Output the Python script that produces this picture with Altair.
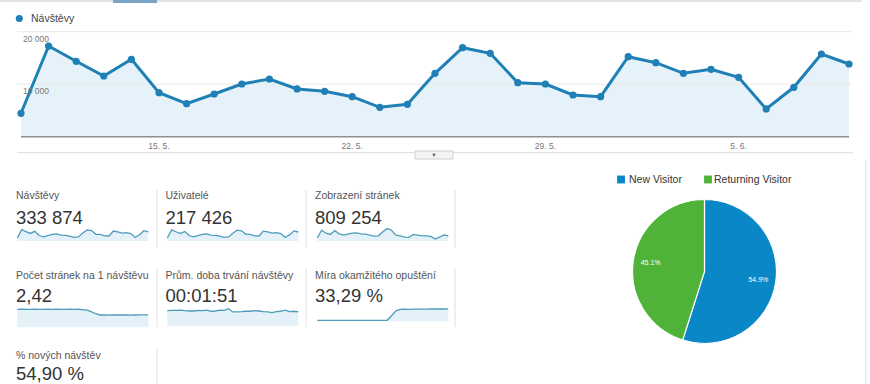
import altair as alt
import pandas as pd

# ---------------- data ----------------
dates = ["10. 5.", "11. 5.", "12. 5.", "13. 5.", "14. 5.", "15. 5.", "16. 5.", "17. 5.",
         "18. 5.", "19. 5.", "20. 5.", "21. 5.", "22. 5.", "23. 5.", "24. 5.", "25. 5.",
         "26. 5.", "27. 5.", "28. 5.", "29. 5.", "30. 5.", "31. 5.", "1. 6.", "2. 6.",
         "3. 6.", "4. 6.", "5. 6.", "6. 6.", "7. 6.", "8. 6.", "9. 6."]
visits = [4460, 17270, 14360, 11560, 14740, 8380, 6290, 8130, 10040, 10990, 9090,
          8640, 7620, 5600, 6170, 12080, 16950, 15890, 10290, 10040, 7940, 7620,
          15240, 14100, 12080, 12840, 11310, 5280, 9410, 15750, 13850]
users = [3600, 13600, 11300, 9200, 11700, 6700, 5000, 6500, 8000, 8700, 7200,
         6900, 6100, 4500, 4900, 9600, 13300, 12500, 8200, 8000, 6300, 6100,
         12000, 11200, 9600, 10200, 9000, 4200, 7500, 12400, 11000]
pageviews = [13200, 43500, 31600, 26400, 42200, 29000, 23700, 27700, 31600, 33000, 29000,
             27700, 23700, 19800, 21100, 36900, 50100, 43500, 23700, 21100, 15800, 14500,
             26400, 23700, 21100, 21100, 18500, 7900, 15800, 25000, 21100]
pages_per_visit = [2.85, 2.86, 2.84, 2.85, 2.87, 2.85, 2.84, 2.86, 2.85, 2.86, 2.84,
                   2.85, 2.86, 2.85, 2.87, 2.78, 2.72, 2.45, 2.15, 1.95, 1.95, 1.94,
                   1.95, 1.96, 1.95, 1.95, 1.94, 1.95, 1.96, 1.97, 1.98]
duration_s = [114, 116, 116, 118, 114, 111, 111, 116, 114, 118, 109,
              111, 118, 116, 128, 104, 104, 106, 109, 109, 114, 111,
              106, 104, 99, 106, 109, 118, 106, 109, 104]
bounce = [4.5, 4.4, 4.6, 4.5, 4.4, 4.6, 4.5, 4.5, 4.4, 4.6, 4.5,
          4.5, 4.6, 4.4, 4.5, 4.6, 5.0, 30.0, 58.0, 66.0, 66.5, 66.0,
          67.0, 67.5, 67.0, 67.5, 68.0, 68.0, 68.5, 68.0, 68.5]

grid_values = [10000, 20000]
grid_labels = ["10 000", "20 000"]
tick_index = [5, 12, 19, 26]
tick_labels = ["15. 5.", "22. 5.", "29. 5.", "5. 6."]
series_name = ["Návštěvy"]

kpi_titles = ["Návštěvy", "Uživatelé", "Zobrazení stránek", "Počet stránek na 1 návštěvu",
              "Prům. doba trvání návštěvy", "Míra okamžitého opuštění", "% nových návštěv"]
kpi_values = ["333 874", "217 426", "809 254", "2,42", "00:01:51", "33,29 %", "54,90 %"]
kpi_col = [0, 1, 2, 0, 1, 2, 0]
kpi_row = [0, 0, 0, 1, 1, 1, 2]

pie_types = ["New Visitor", "Returning Visitor"]
pie_share = [54.9, 45.1]
pie_labels = ["54.9%", "45.1%"]

# ---------------- styling / geometry ----------------
FONT = "Liberation Sans"
BLUE_LINE = "#1f80b5"
BLUE_FILL = "#e6f2f9"
PIE_COLORS = ["#0a87c6", "#4fb33a"]
SPARK_LINE = "#4e9cbc"
SPARK_FILL = "#e4f1f8"

ONE = pd.DataFrame({"k": [0]})


def lin(domain, rng):
    return alt.Scale(domain=domain, range=rng, zero=False, nice=False)


def rule(x, x2, y, y2, color, w=1.0):
    return alt.Chart(ONE).mark_rule(color=color, strokeWidth=w).encode(
        x=alt.value(x), x2=alt.value(x2), y=alt.value(y), y2=alt.value(y2))


layers = []

# top decoration
layers.append(rule(0, 862, 1, 1, "#e3e3e3", 2))
layers.append(alt.Chart(ONE).mark_rect(color="#7aa3c5").encode(
    x=alt.value(113), x2=alt.value(157), y=alt.value(0), y2=alt.value(3)))

# ---------------- main line chart ----------------
X_MAIN = lin([0, 30], [21, 849])
Y_MAIN = lin([0, 20000], [136.7, 31.7])

df_main = pd.DataFrame({"i": list(range(len(visits))), "den": dates, "navstevy": visits})
df_grid = pd.DataFrame({"v": grid_values, "label": grid_labels})
df_ticks = pd.DataFrame({"i": tick_index, "label": tick_labels})
df_base = pd.DataFrame({"v": [0]})

base = alt.Chart(df_main).encode(
    x=alt.X("i:Q", scale=X_MAIN, axis=None),
    y=alt.Y("navstevy:Q", scale=Y_MAIN, axis=None))
layers.append(base.mark_area(color=BLUE_FILL, opacity=1))
layers.append(alt.Chart(df_grid).mark_rule(color="#e9e9e9", strokeWidth=1).encode(
    y=alt.Y("v:Q", scale=Y_MAIN, axis=None), x=alt.value(17), x2=alt.value(851)))
layers.append(alt.Chart(df_base).mark_rule(color="#8f8f8f", strokeWidth=1.5).encode(
    y=alt.Y("v:Q", scale=Y_MAIN, axis=None), x=alt.value(21), x2=alt.value(849)))
layers.append(base.mark_line(color=BLUE_LINE, strokeWidth=3))
layers.append(base.mark_point(filled=True, size=52, color=BLUE_LINE, opacity=1))
layers.append(alt.Chart(df_grid).mark_text(
    align="left", baseline="middle", dy=7, font=FONT, fontSize=8.5, color="#777").encode(
    x=alt.value(23), y=alt.Y("v:Q", scale=Y_MAIN, axis=None), text="label:N"))
layers.append(alt.Chart(df_ticks).mark_text(
    baseline="middle", font=FONT, fontSize=8.5, color="#777").encode(
    x=alt.X("i:Q", scale=X_MAIN, axis=None), y=alt.value(146), text="label:N"))

# legend of main chart
df_leg = pd.DataFrame({"serie": series_name})
layers.append(alt.Chart(df_leg).mark_point(filled=True, size=50, color=BLUE_LINE, opacity=1).encode(
    x=alt.value(19.3), y=alt.value(18.5)))
layers.append(alt.Chart(df_leg).mark_text(
    align="left", baseline="middle", font=FONT, fontSize=10.5, color="#444").encode(
    x=alt.value(31), y=alt.value(18.5), text="serie:N"))

# divider with tab
layers.append(rule(17, 853, 152.7, 152.7, "#dcdcdc", 1))
layers.append(alt.Chart(ONE).mark_rect(fill="#f4f4f4", stroke="#cfcfcf", strokeWidth=1).encode(
    x=alt.value(415), x2=alt.value(453), y=alt.value(151), y2=alt.value(159)))
layers.append(alt.Chart(ONE).mark_point(shape="triangle-down", filled=True, size=14,
                                        color="#666", opacity=1).encode(
    x=alt.value(434), y=alt.value(155.3)))

# ---------------- KPI panels ----------------
df_kpi = pd.DataFrame({"nazev": kpi_titles, "hodnota": kpi_values,
                       "sloupec": kpi_col, "radek": kpi_row})
KX = lin([0, 2], [16, 315])
layers.append(alt.Chart(df_kpi).mark_text(
    align="left", baseline="middle", font=FONT, fontSize=10.5, color="#555").encode(
    x=alt.X("sloupec:Q", scale=KX, axis=None),
    y=alt.Y("radek:Q", scale=lin([0, 2], [196, 356]), axis=None),
    text="nazev:N"))
layers.append(alt.Chart(df_kpi).mark_text(
    align="left", baseline="middle", font=FONT, fontSize=18.5, color="#333").encode(
    x=alt.X("sloupec:Q", scale=KX, axis=None),
    y=alt.Y("radek:Q", scale=lin([0, 2], [218, 373.5]), axis=None),
    text="hodnota:N"))

# separators
for sx in [157, 306, 455]:
    layers.append(rule(sx, sx, 190, 248, "#e0e0e0", 1))
    layers.append(rule(sx, sx, 268, 327, "#e0e0e0", 1))
layers.append(rule(157, 157, 348, 384, "#e0e0e0", 1))


def spark(vals, x0, x1, ybot, ytop, domain):
    df = pd.DataFrame({"i": list(range(len(vals))), "v": vals})
    b = alt.Chart(df).encode(
        x=alt.X("i:Q", scale=lin([0, len(vals) - 1], [x0, x1]), axis=None),
        y=alt.Y("v:Q", scale=lin(domain, [ybot, ytop]), axis=None))
    return [b.mark_area(color=SPARK_FILL, opacity=1).encode(y2=alt.value(ybot)),
            b.mark_line(color=SPARK_LINE, strokeWidth=1.3)]


COLS = [(17.3, 148.3), (167.3, 298.3), (317.3, 448.3)]
layers += spark(visits, *COLS[0], 241, 226, [0, 22925])
layers += spark(users, *COLS[1], 241, 226, [0, 18340])
layers += spark(pageviews, *COLS[2], 241, 226, [0, 60600])
layers += spark(pages_per_visit, *COLS[0], 321, 306, [1.0, 3.37])
layers += spark(duration_s, *COLS[1], 321, 306, [36, 148.5])
layers += spark(bounce, *COLS[2], 321, 306, [0.8, 84.8])

# ---------------- pie ----------------
df_pie = pd.DataFrame({"typ": pie_types, "podil": pie_share, "stitek": pie_labels,
                       "poradi": [0, 1]})
CX, CY, R = 704.5, 271.5, 72
color_scale = alt.Scale(domain=pie_types, range=PIE_COLORS)
layers.append(alt.Chart(df_pie).mark_arc(outerRadius=R, stroke="white", strokeWidth=1.2).encode(
    theta=alt.Theta("podil:Q", stack=True),
    color=alt.Color("typ:N", scale=color_scale, legend=None),
    order=alt.Order("poradi:Q"),
    x=alt.value(CX), y=alt.value(CY)))
layers.append(alt.Chart(df_pie).mark_text(
    radius=54.5, font=FONT, fontSize=7, color="white").encode(
    theta=alt.Theta("podil:Q", stack=True),
    order=alt.Order("poradi:Q"),
    text="stitek:N",
    x=alt.value(CX), y=alt.value(CY)))

# pie legend
LEG_SQ_X = [621, 708]
LEG_TX_X = [629, 714]
for k, t in enumerate(pie_types):
    dfl = pd.DataFrame({"typ": [t]})
    layers.append(alt.Chart(dfl).mark_square(size=62, opacity=1).encode(
        color=alt.Color("typ:N", scale=color_scale, legend=None),
        x=alt.value(LEG_SQ_X[k]), y=alt.value(179.5)))
    layers.append(alt.Chart(dfl).mark_text(
        align="left", baseline="middle", font=FONT, fontSize=10.5, color="#333").encode(
        x=alt.value(LEG_TX_X[k]), y=alt.value(180), text="typ:N"))

# right edge
layers.append(rule(866, 866, 160, 384, "#efefef", 2))

chart = alt.layer(*layers).properties(
    width=870, height=384, padding=0, autosize="none", background="white"
).resolve_scale(x="independent", y="independent").configure_view(stroke=None)

chart.save("out.html", embed_options={"renderer": "svg", "actions": False})
